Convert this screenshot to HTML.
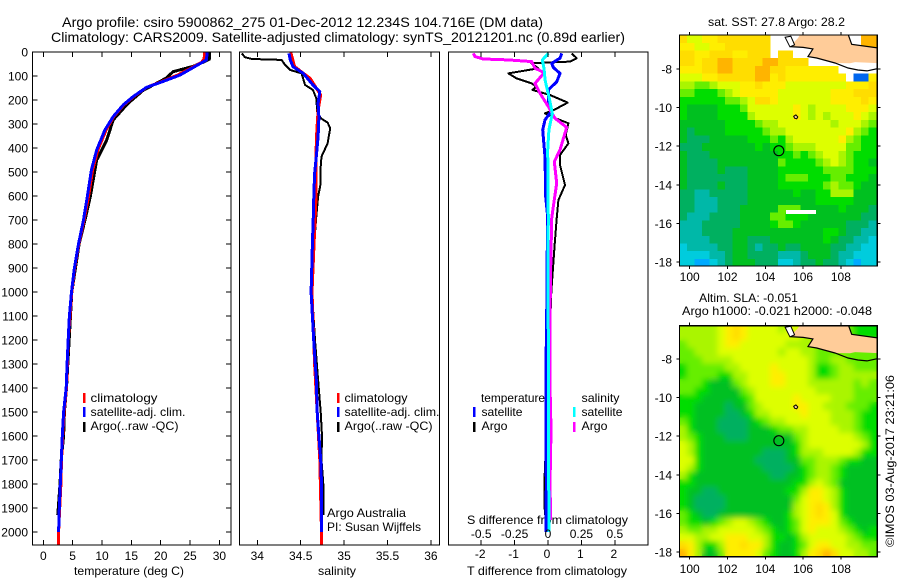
<!DOCTYPE html>
<html>
<head>
<meta charset="utf-8">
<title>Argo profile</title>
<style>
html,body{margin:0;padding:0;background:#fff;width:900px;height:580px;overflow:hidden}
svg{display:block}
text{font-family:"Liberation Sans",sans-serif;fill:#000;font-size:12px}
.title{font-size:14px}
</style>
</head>
<body>
<svg id="chart" xmlns="http://www.w3.org/2000/svg" width="900" height="580" viewBox="0 0 900 580">
<rect x="0" y="0" width="900" height="580" fill="#fff"/>
<text class="title" x="62" y="27" textLength="481" lengthAdjust="spacingAndGlyphs">Argo profile: csiro 5900862_275 01-Dec-2012 12.234S 104.716E (DM data)</text>
<text class="title" x="51" y="42" textLength="574" lengthAdjust="spacingAndGlyphs">Climatology: CARS2009. Satellite-adjusted climatology: synTS_20121201.nc (0.89d earlier)</text>
<text x="74" y="575" textLength="110" lengthAdjust="spacingAndGlyphs">temperature (deg C)</text>
<text x="318" y="575" textLength="38" lengthAdjust="spacingAndGlyphs">salinity</text>
<text x="467" y="575" textLength="160" lengthAdjust="spacingAndGlyphs">T difference from climatology</text>
<text x="467" y="524" textLength="161" lengthAdjust="spacingAndGlyphs">S difference from climatology</text>

<g>
<rect x="83" y="393" width="2.5" height="10" fill="#f00"/>
<rect x="83" y="407" width="2.5" height="10" fill="#00f"/>
<rect x="83" y="422" width="2.5" height="10" fill="#000"/>
<text x="90.5" y="402" textLength="67" lengthAdjust="spacingAndGlyphs">climatology</text>
<text x="90.5" y="416" textLength="95" lengthAdjust="spacingAndGlyphs">satellite-adj. clim.</text>
<text x="90.5" y="430" textLength="88" lengthAdjust="spacingAndGlyphs">Argo(..raw -QC)</text>
</g>
<g>
<rect x="337" y="393" width="2.5" height="10" fill="#f00"/>
<rect x="337" y="407" width="2.5" height="10" fill="#00f"/>
<rect x="337" y="422" width="2.5" height="10" fill="#000"/>
<text x="344.5" y="402" textLength="63" lengthAdjust="spacingAndGlyphs">climatology</text>
<text x="344.5" y="416" textLength="95" lengthAdjust="spacingAndGlyphs">satellite-adj. clim.</text>
<text x="344.5" y="430" textLength="88" lengthAdjust="spacingAndGlyphs">Argo(..raw -QC)</text>
</g>
<text x="327" y="517" textLength="79" lengthAdjust="spacingAndGlyphs">Argo Australia</text>
<text x="327" y="531" textLength="94" lengthAdjust="spacingAndGlyphs">PI: Susan Wijffels</text>

<g>
<rect x="473" y="407" width="2.5" height="10" fill="#00f"/>
<rect x="473" y="422" width="2.5" height="10" fill="#000"/>
<rect x="573" y="407" width="2.5" height="10" fill="#0ff"/>
<rect x="573" y="422" width="2.5" height="10" fill="#f0f"/>
<text x="481" y="402" textLength="64" lengthAdjust="spacingAndGlyphs">temperature</text>
<text x="481.5" y="416" textLength="41" lengthAdjust="spacingAndGlyphs">satellite</text>
<text x="481.5" y="430" textLength="26" lengthAdjust="spacingAndGlyphs">Argo</text>
<text x="581.5" y="402" textLength="38" lengthAdjust="spacingAndGlyphs">salinity</text>
<text x="581.5" y="416" textLength="41" lengthAdjust="spacingAndGlyphs">satellite</text>
<text x="581.5" y="430" textLength="26" lengthAdjust="spacingAndGlyphs">Argo</text>
</g>

<text x="708" y="26" textLength="137" lengthAdjust="spacingAndGlyphs">sat. SST: 27.8 Argo: 28.2</text>
<text x="699" y="302" textLength="99" lengthAdjust="spacingAndGlyphs">Altim. SLA: -0.051</text>
<text x="682" y="315" textLength="190" lengthAdjust="spacingAndGlyphs">Argo h1000: -0.021 h2000: -0.048</text>
<text transform="translate(894,547) rotate(-90)" x="0" y="0" textLength="172" lengthAdjust="spacingAndGlyphs">©IMOS 03-Aug-2017 23:21:06</text>
<defs>
<clipPath id="clip-sst"><rect x="679.5" y="35" width="198" height="231"/></clipPath>
<clipPath id="clip-sla"><rect x="679.5" y="325.7" width="198" height="231"/></clipPath>
<filter id="sla-smooth" x="-5%" y="-5%" width="110%" height="110%"><feGaussianBlur stdDeviation="3"/></filter>
</defs>
</svg>
<script>
// ---------- temperature panel data ----------
const tempClimDepth=[0,30,44,68,96,123,147,186,221,269,325,408,492,603,700,800,900,1000,1200,1400,1500,1600,1700,1800,1900,2000,2054];
const tempClimValue=[27.5,27.4,26.9,25.1,22.9,20.2,17.6,15.4,13.7,12,10.7,9.3,8.4,7.7,6.95,6.05,5.35,4.85,4.25,3.95,3.55,3.3,3.1,3.0,2.8,2.6,2.6];
const tempSatDepth=[0,33,44,68,96,123,147,186,221,269,325,408,492,603,700,800,900,1000,1100,1200,1300,1400,1500,1600,1700,1800,1900,2000];
const tempSatValue=[27.9,27.8,27.0,25.3,23.3,20.4,17.6,15.3,13.6,11.9,10.5,9.1,8.2,7.5,6.85,6.0,5.3,4.8,4.45,4.25,4.05,3.9,3.45,3.24,3.07,2.9,2.73,2.6];
const tempArgoDepth=[0,30,40,60,82,108,160,215,283,367,450,603,700,800,1000,1400,1500,1600,1700,1800,1900,1930];
const tempArgoValue=[28.3,28.3,27.5,25.5,22.1,21,17,14.4,11.9,10.8,9.1,8,7.1,6.1,4.85,3.95,3.6,3.45,3.05,2.85,2.55,2.45];
// ---------- salinity panel data ----------
const salClimDepth=[0,61,110,179,242,367,617,1000,1300,1500,1700,2000,2054];
const salClimValue=[34.385,34.43,34.61,34.73,34.70,34.68,34.675,34.63,34.66,34.69,34.72,34.74,34.74];
const salSatDepth=[6,33,61,89,137,165,214,272,353,436,506,617,686,800,1000,1200,1366,1500,1600,1700,1800,2000];
const salSatValue=[34.365,34.38,34.41,34.53,34.64,34.72,34.70,34.71,34.70,34.68,34.66,34.65,34.645,34.635,34.62,34.65,34.68,34.69,34.71,34.73,34.74,34.74];
const salArgoDepth=[6,22,29,33,54,75,89,137,158,193,248,276,294,318,381,436,478,547,603,686,800,1000,1200,1366,1500,1600,1700,1800,1930];
const salArgoValue=[33.82,33.86,33.94,34.28,34.32,34.38,34.51,34.55,34.64,34.68,34.69,34.73,34.81,34.84,34.81,34.74,34.73,34.73,34.70,34.68,34.655,34.63,34.665,34.70,34.73,34.745,34.74,34.76,34.76];
// ---------- difference panel data ----------
const dtArgoDepth=[6,26,40,47,68,89,110,131,144,158,179,211,239,256,269,297,346,381,429,471,554,617,693,800,1000,1200,1400,1500,1600,1700,1800,1900,1930];
const dtArgoValue=[.71,.86,.66,-.49,-.29,-1.19,-.94,-.49,-.34,-.47,.06,.59,.21,-.09,.11,.61,.53,.61,.36,.36,.51,.31,.26,.2,.1,.05,.02,-.01,-.02,-.08,-.11,-.1,-.09];
const dtSatDepth=[6,26,47,64,89,124,158,214,248,283,325,436,603,686,800,1000,1200,1400,1600,1800,2000];
const dtSatValue=[.41,.36,.11,.16,.36,.26,.01,.01,.09,-.09,-.16,-.09,-.07,-.01,-.02,-.03,-.05,-.06,-.06,-.05,-.06];
const dsSatDepth=[6,33,68,117,186,256,325,408,575,693,900,1200,1600,2000];
const dsSatValue=[.003,-.043,-.03,-.022,.007,.032,.007,-.002,0,.002,0,.002,.002,.008];
const dsArgoDepth=[6,19,29,33,40,68,86,131,172,228,276,314,408,457,547,644,693,900,1100,1400,1500,1600,1800,1950];
const dsArgoValue=[-.559,-.546,-.484,-.297,-.122,-.097,-.028,-.097,-.06,.003,.052,.14,.09,.047,.065,.04,.028,.02,.015,.015,.02,.022,.015,.02];
// ---------- tick labels ----------
const depthTicks=[0,100,200,300,400,500,600,700,800,900,1000,1100,1200,1300,1400,1500,1600,1700,1800,1900,2000];
const tempTicks=[0,5,10,15,20,25,30];
const salTicks=[34,34.5,35,35.5,36];
const tDiffTicks=[-2,-1,0,1,2];
const sDiffTicks=[-0.5,-0.25,0,0.25,0.5];
const lonTicks=[100,102,104,106,108];
const latTicks=[-8,-10,-12,-14,-16,-18];
// ---------- map data (colour level per 0.4 degree cell; null = no data) ----------
const profileLon=104.716;
const profileLat=-12.234;
const _=null;
const sstLevels=[
[11,9,9,10,10,11,11,11,11,11,11,11,_,_,_,_,_,_,_,_,_,_,_,_,12,12],
[10,10,9,9,10,10,11,11,11,11,11,11,_,_,_,_,_,_,_,_,_,_,_,_,12,12],
[11,11,10,10,11,11,11,10,10,11,11,11,_,11,11,_,_,_,_,_,_,_,_,_,_,_],
[11,11,10,11,11,12,12,11,11,11,11,12,12,11,11,11,11,_,_,_,_,_,_,_,_,_],
[10,10,10,11,11,12,12,11,11,11,12,12,11,11,10,10,10,10,10,10,10,_,_,_,_,_],
[9,9,9,10,10,11,11,11,11,11,12,12,10,11,10,10,10,10,10,10,10,10,_,0,0,10],
[8,8,7,7,8,9,9,9,10,10,11,10,10,10,9,9,9,9,9,9,9,9,10,10,10,11],
[7,7,6,6,6,7,8,9,10,10,10,10,10,9,9,9,9,9,9,9,10,10,10,11,11,11],
[6,6,6,6,6,6,7,7,8,9,11,11,10,9,9,9,9,9,9,9,10,10,10,10,11,10],
[6,5,5,5,5,6,6,6,7,9,9,9,9,9,9,10,9,8,9,9,9,9,10,10,10,9],
[6,5,5,5,5,6,6,6,6,8,9,9,9,9,9,10,9,8,9,8,9,9,9,10,9,8],
[5,5,5,5,5,5,6,6,6,6,7,8,8,9,9,9,9,9,9,9,8,9,9,9,8,7],
[5,4,5,5,5,5,6,6,6,6,6,7,8,8,9,9,9,9,9,9,9,9,10,8,7,6],
[5,4,4,4,5,5,5,5,5,6,6,6,7,6,8,9,9,9,9,9,9,10,8,7,6,6],
[4,4,4,5,5,5,5,5,5,5,6,5,6,6,7,8,8,8,9,9,9,9,7,7,6,6],
[5,4,4,4,5,5,5,5,5,5,5,5,5,6,6,7,6,7,8,9,9,8,7,6,6,6],
[5,4,4,4,4,5,5,5,5,5,5,5,5,7,6,6,6,6,7,8,9,8,7,6,6,5],
[5,4,4,4,4,5,4,4,4,5,5,5,5,6,6,6,6,6,6,7,7,7,7,6,6,6],
[5,4,4,4,4,4,4,4,4,5,5,5,5,6,7,7,7,6,6,6,7,7,6,6,6,5],
[5,4,4,4,4,5,4,4,4,5,5,5,5,6,6,6,6,6,6,7,8,7,7,6,5,5],
[4,4,3,3,4,4,4,4,4,5,5,5,5,5,5,6,5,5,6,6,8,8,8,5,5,5],
[4,4,3,3,3,4,4,4,4,5,5,5,5,5,5,5,5,5,6,6,6,6,6,5,5,5],
[4,4,3,3,3,4,4,4,5,5,5,5,5,7,7,7,5,5,5,5,5,6,5,5,5,4],
[4,3,3,3,4,4,4,4,5,5,5,5,7,7,6,6,6,5,5,5,5,5,5,5,4,4],
[3,3,3,4,4,4,4,4,5,5,5,5,6,7,7,6,5,5,5,5,5,5,4,4,4,3],
[3,3,3,4,4,4,4,5,5,5,5,5,5,5,5,5,5,5,5,6,6,5,4,4,3,3],
[3,3,3,3,4,4,4,5,5,4,4,4,5,5,5,5,5,5,5,6,5,4,4,3,3,2],
[2,3,3,3,3,4,4,5,5,4,3,4,4,5,4,4,5,5,5,5,4,4,3,3,2,2],
[2,2,2,2,3,3,4,5,5,4,4,4,4,3,3,3,4,5,5,5,4,3,3,2,2,2],
[2,2,1,1,2,3,4,5,5,5,4,4,4,2,2,3,4,4,5,4,4,3,2,1,2,2]
];
const slaLevels=[
[8,8,8,8,8,9,10,11,10,9,9,9,9,8,9,9,8,8,8,8,8,7,7,6,6,6],
[8,8,8,8,8,9,10,11,10,9,9,9,9,9,9,9,8,8,8,8,8,7,7,6,6,6],
[7,8,8,8,8,9,10,10,9,9,9,9,9,9,8,8,8,8,7,7,7,7,7,7,7,7],
[7,7,8,8,8,9,9,9,9,9,9,9,9,8,9,9,8,8,7,7,7,7,7,7,7,7],
[7,7,7,8,8,8,8,9,9,9,9,9,9,9,9,9,9,8,7,7,8,8,7,7,7,7],
[6,7,7,7,7,7,8,8,9,9,9,9,10,9,9,9,9,8,6,6,7,8,8,7,7,7],
[6,7,7,7,7,6,6,8,8,9,9,9,10,10,9,9,9,8,6,6,7,8,8,8,8,8],
[7,7,7,6,5,5,5,7,8,9,9,9,10,10,9,9,9,8,8,8,8,8,8,7,8,7],
[7,7,6,6,5,5,5,5,7,8,9,9,9,9,9,9,9,9,8,8,8,8,8,7,7,7],
[6,6,6,5,5,5,5,5,6,7,9,9,9,9,9,10,9,9,9,9,8,8,8,7,7,7],
[6,6,5,5,5,5,4,5,5,7,8,9,9,9,9,10,10,9,9,8,8,8,7,7,7,6],
[6,6,5,5,5,5,4,4,5,6,8,8,9,9,9,9,10,9,9,9,8,8,8,7,6,6],
[7,6,5,5,5,4,4,4,4,5,6,7,8,8,9,9,9,9,9,9,8,8,8,7,6,6],
[8,6,5,5,5,4,4,4,4,5,5,5,6,7,7,8,8,9,9,9,9,8,8,7,6,6],
[8,7,6,5,5,5,4,4,4,5,5,5,5,5,5,7,8,9,9,9,9,9,9,8,7,6],
[9,8,6,5,5,5,5,5,5,5,5,5,5,5,5,6,8,9,9,9,9,9,9,9,8,6],
[9,8,6,5,5,5,5,5,5,5,5,4,4,4,5,6,8,8,8,9,9,9,9,8,6,6],
[9,9,6,5,5,5,5,5,5,5,4,4,4,4,5,5,7,7,8,8,8,7,6,6,5,5],
[9,8,6,5,5,5,5,5,5,5,5,4,4,4,4,5,6,7,8,8,7,6,5,5,5,5],
[8,6,5,5,5,5,5,5,5,5,5,5,4,4,5,5,6,7,8,8,7,6,5,5,5,5],
[6,6,5,5,5,5,5,5,5,5,5,5,5,5,5,6,6,8,9,8,7,5,5,5,5,5],
[6,5,5,4,4,5,5,5,5,5,5,5,5,5,6,6,8,10,10,9,8,6,5,5,5,5],
[6,5,4,4,4,4,5,5,5,5,5,5,5,5,5,7,9,10,10,9,8,6,5,5,5,5],
[6,5,4,4,4,4,5,5,5,5,5,5,5,5,5,8,9,10,11,10,8,6,5,5,5,5],
[7,6,5,4,4,5,5,5,5,5,5,5,5,5,6,8,9,10,11,10,9,6,5,5,5,5],
[7,6,6,5,6,7,8,9,9,8,7,6,5,5,6,7,9,10,10,10,9,7,6,5,5,5],
[8,7,7,8,8,9,9,9,9,9,8,7,6,5,6,7,9,10,9,9,9,8,7,6,5,6],
[9,9,8,8,9,9,10,10,10,9,9,8,6,6,5,6,8,9,9,9,9,9,8,7,6,6],
[11,10,8,6,6,8,10,10,11,10,10,8,6,5,5,6,7,9,10,10,9,9,8,8,7,7],
[12,10,8,5,5,7,10,10,10,10,9,7,6,5,5,6,8,10,11,12,11,9,9,8,8,7]
];
const levelColors=['#0066ee','#00aaff','#00ccdd','#00b8a8','#00b060','#00c020','#00dd00','#66ee00','#aaf500','#ddff00','#ffee00','#ffdd00','#ffb400'];
const landLon=[105.84,108.38,108.57,110.1,110.1,108.75,108.48,107.69,106.72,106.26,106.52,106,105.3,105.73];
const landLat=[-6.2,-6.2,-6.72,-6.93,-7.7,-7.64,-7.7,-7.69,-7.43,-7.36,-6.96,-6.88,-6.84,-6.4];
const coastLon=[108.38,108.57,110.1];
const coastLat=[-6.2,-6.72,-6.93];
const southCoastLon=[105.3,106,106.52,106.26,106.72,107.69,108.38,108.9,109.38,110.1];
const southCoastLat=[-6.84,-6.88,-6.96,-7.36,-7.43,-7.69,-7.95,-8.05,-8.1,-7.95];
const westIslandLon=[105.05,105.35,105.55,105.3];
const westIslandLat=[-6.35,-6.3,-6.75,-6.85];
const christmasLon=[105.5,105.62,105.72,105.66,105.55];
const christmasLat=[-10.45,-10.38,-10.48,-10.58,-10.55];

const NS='http://www.w3.org/2000/svg';
const svg=document.getElementById('chart');
function mk(tag,attrs,parent){
  const el=document.createElementNS(NS,tag);
  for(const k in attrs)el.setAttribute(k,attrs[k]);
  (parent||svg).appendChild(el);
  return el;
}
// axis functions
const yDepth=d=>52+0.24*d;
const xTemp=t=>43.3+5.87*t;
const xSal=s=>257.3+86.8*(s-34);
const xDT=t=>548+33.4*t;
const xDS=s=>548+133.6*s;
const xLon=l=>689.7+18.9*(l-100);
const yLatTop=l=>69+19.3*(-8-l);
const yLatBot=l=>359+19.3*(-8-l);

function drawLine(xs,ds,xf,color,w,name){
  const pts=xs.map((v,i)=>xf(v).toFixed(1)+','+yDepth(ds[i]).toFixed(1)).join(' ');
  const el=mk('polyline',{points:pts,fill:'none',stroke:color,'stroke-width':w,'shape-rendering':'crispEdges','stroke-linejoin':'round'});
  
  
  return el;
}
function tickLine(x1,y1,x2,y2){
  const el=mk('line',{x1:x1,y1:y1,x2:x2,y2:y2,stroke:'#000','stroke-width':1,'shape-rendering':'crispEdges'});
  
  
}
function tickText(x,y,str,anchor){
  const el=mk('text',{x:x,y:y,'text-anchor':anchor});
  el.textContent=str;
  
  
}
function frame(x,y,w,h,name){
  const el=mk('rect',{x:x,y:y,width:w,height:h,fill:'none',stroke:'#000','stroke-width':1.2,'shape-rendering':'crispEdges'});
  
  
}

// temperature panel
drawLine(tempArgoValue,tempArgoDepth,xTemp,'#000',3,'temperature-argo-line');
drawLine(tempClimValue,tempClimDepth,xTemp,'#f00',3,'temperature-climatology-line');
drawLine(tempSatValue,tempSatDepth,xTemp,'#00f',3,'temperature-satellite-line');
frame(32.5,52,198.5,493,'temperature-plot-frame');
tempTicks.forEach(t=>{
  tickLine(xTemp(t),52,xTemp(t),57);
  tickLine(xTemp(t),540,xTemp(t),545);
  tickText(xTemp(t),560,String(t),'middle');
});
depthTicks.forEach(d=>{
  tickLine(32.5,yDepth(d),37.5,yDepth(d));
  tickLine(226,yDepth(d),231,yDepth(d));
  tickText(28,yDepth(d)+4.5,String(d),'end');
});

// salinity panel
drawLine(salArgoValue,salArgoDepth,xSal,'#000',2,'salinity-argo-line');
drawLine(salClimValue,salClimDepth,xSal,'#f00',3,'salinity-climatology-line');
drawLine(salSatValue,salSatDepth,xSal,'#00f',3,'salinity-satellite-line');
frame(239.5,52,200,493,'salinity-plot-frame');
salTicks.forEach(s=>{
  tickLine(xSal(s),52,xSal(s),57);
  tickLine(xSal(s),540,xSal(s),545);
  tickText(xSal(s),560,String(s),'middle');
});

// difference panel
drawLine(dtArgoValue,dtArgoDepth,xDT,'#000',2,'t-difference-argo-line');
drawLine(dtSatValue,dtSatDepth,xDT,'#00f',3,'t-difference-satellite-line');
drawLine(dsArgoValue,dsArgoDepth,xDS,'#f0f',3,'s-difference-argo-line');
drawLine(dsSatValue,dsSatDepth,xDS,'#0ff',3,'s-difference-satellite-line');
frame(448.5,52,199.5,493,'difference-plot-frame');
tDiffTicks.forEach(t=>{
  tickLine(xDT(t),52,xDT(t),57);
  tickLine(xDT(t),540,xDT(t),545);
  tickText(xDT(t)-1,558,String(t),'middle');
});
sDiffTicks.forEach(s=>{
  tickText(xDS(s),538,String(s),'middle');
});

// maps
function polyPts(lons,lats,yf){
  return lons.map((l,i)=>xLon(l).toFixed(1)+','+yf(lats[i]).toFixed(1)).join(' ');
}
function drawMap(levels,yf,clipId,top,bottom,prefix,smooth){
  const g=mk('g',{'clip-path':'url(#'+clipId+')'});
  
  
  const cells=mk('g',{id:prefix+'-cells'},g);
  
  
  const cell=0.4, lon0=99.46, lat0=-6.24;
  levels.forEach((row,r)=>{
    row.forEach((lev,c)=>{
      if(lev===null)return;
      const x=xLon(lon0+c*cell), y=yf(lat0-r*cell);
      const w=xLon(lon0+(c+1)*cell)-x, h=yf(lat0-(r+1)*cell)-y;
      const el=mk('rect',{x:x.toFixed(2),y:y.toFixed(2),width:(w+0.3).toFixed(2),height:(h+0.3).toFixed(2),fill:levelColors[lev],'shape-rendering':'crispEdges'},cells);
      
      
    });
  });
  if(smooth){
    const u=mk('use',{href:'#'+prefix+'-cells',filter:'url(#sla-smooth)'},g);
    
    
  }
  const land=mk('polygon',{points:polyPts(landLon,landLat,yf),fill:'#ffcc99',stroke:'none'},g);
  
  
  const c1=mk('polyline',{points:polyPts(coastLon,coastLat,yf),fill:'none',stroke:'#000','stroke-width':1.2},g);
  
  
  const c2=mk('polyline',{points:polyPts(southCoastLon,southCoastLat,yf),fill:'none',stroke:'#000','stroke-width':1.2},g);
  
  
  const isl=mk('polygon',{points:polyPts(westIslandLon,westIslandLat,yf),fill:'#fff',stroke:'#000','stroke-width':1},g);
  
  
  const cx=mk('polygon',{points:polyPts(christmasLon,christmasLat,yf),fill:'#ffcc99',stroke:'#000','stroke-width':1},g);
  
  
  const circ=mk('circle',{cx:xLon(profileLon),cy:yf(profileLat),r:5,fill:'none',stroke:'#000','stroke-width':1.1},g);
  
  
  frame(679.5,top,197.8,bottom-top,prefix+'-map-frame');
  lonTicks.forEach(l=>{
    tickLine(xLon(l),top-3,xLon(l),top);
    tickLine(xLon(l),bottom,xLon(l),bottom+3);
    tickText(xLon(l),bottom+(prefix==='sst'?15:16.5),String(l),'middle');
  });
  latTicks.forEach(l=>{
    tickLine(676.5,yf(l),679.5,yf(l));
    tickLine(877.3,yf(l),880.3,yf(l));
    tickText(672,yf(l)+4.5,String(l),'end');
  });
}
drawMap(sstLevels,yLatTop,'clip-sst',35,266,'sst',false);
const bar=mk('rect',{x:786,y:210,width:30,height:4,fill:'#fff','shape-rendering':'crispEdges'});


drawMap(slaLevels,yLatBot,'clip-sla',325.7,556.7,'sla',true);
</script>
</body>
</html>
